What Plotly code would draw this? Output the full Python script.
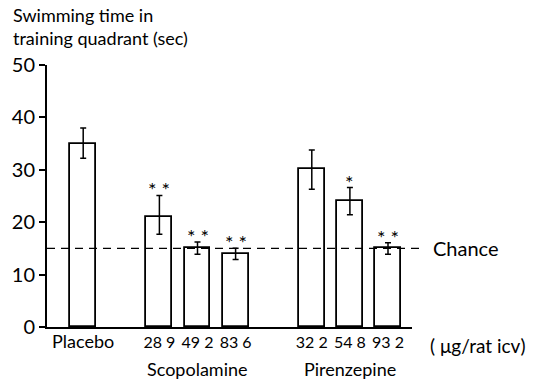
import plotly.graph_objects as go

# Data
positions = [0, 2, 3, 4, 6, 7, 8]
tick_labels = ["Placebo", "28 9", "49 2", "83 6", "32 2", "54 8", "93 2"]
values = [35.0, 21.0, 15.1, 14.0, 30.1, 24.1, 15.1]
err_plus = [3.0, 4.1, 1.1, 1.05, 3.7, 2.5, 1.0]
err_minus = [2.8, 3.3, 1.2, 1.1, 3.8, 2.7, 1.2]
stars = ["", "* *", "* *", "* *", "", "*", "* *"]
chance_level = 15
group_labels = ["Scopolamine", "Pirenzepine"]
group_centers = [3, 7]

FONT = "Lato"
W, H = 537, 380
ml, mr, mt, mb = 45, 125, 65, 53
pw, ph = W - ml - mr, H - mt - mb

ticktext = [f'<span style="font-size:18px">{t}</span>' if not t[0].isdigit() else t
            for t in tick_labels]

fig = go.Figure()
fig.add_trace(go.Bar(
    x=positions, y=values, width=0.68,
    marker=dict(color="white", line=dict(color="black", width=1.8)),
    error_y=dict(type="data", symmetric=False, array=err_plus, arrayminus=err_minus,
                 color="black", thickness=1.5, width=3),
    showlegend=False,
))

# chance line
fig.add_shape(type="line", xref="paper", yref="y", x0=0, x1=(425 - ml) / pw,
              y0=chance_level, y1=chance_level,
              line=dict(color="black", width=1.3, dash="8px,6px"))

ann = []
ann.append(dict(xref="paper", yref="y", x=(431 - ml) / pw, y=chance_level,
                text="Chance", showarrow=False, xanchor="left", yanchor="middle",
                font=dict(size=20, family=FONT, color="black")))
for p, v, e, s in zip(positions, values, err_plus, stars):
    if s:
        ann.append(dict(x=p, y=v + e, text=s, showarrow=False, yanchor="middle",
                        yshift=6, font=dict(size=20, family=FONT, color="black")))
for g, c in zip(group_labels, group_centers):
    ann.append(dict(x=c, xref="x", yref="paper", y=0, yshift=-42, text=g,
                    showarrow=False, yanchor="middle",
                    font=dict(size=18, family=FONT, color="black")))
ann.append(dict(xref="paper", yref="paper", x=(428 - ml) / pw, y=0, yshift=-18,
                text="( μg/rat icv)", showarrow=False, xanchor="left", yanchor="middle",
                font=dict(size=19, family=FONT, color="black")))
ann.append(dict(xref="paper", yref="paper", x=-(ml - 9) / pw, y=1 + (mt - 2) / ph,
                text="Swimming time in<br>training quadrant (sec)", showarrow=False,
                xanchor="left", yanchor="top", align="left",
                font=dict(size=18, family=FONT, color="black")))

fig.update_layout(
    width=W, height=H,
    margin=dict(l=ml, r=mr, t=mt, b=mb),
    paper_bgcolor="white", plot_bgcolor="white",
    annotations=ann,
    bargap=0,
    xaxis=dict(range=[-0.95, 8.63], tickvals=positions, ticktext=ticktext,
               showline=True, linecolor="black", linewidth=1.8, ticks="",
               showgrid=False, zeroline=False,
               tickfont=dict(size=16, family=FONT, color="black")),
    yaxis=dict(range=[0, 50], tickvals=[0, 10, 20, 30, 40, 50],
               showline=True, linecolor="black", linewidth=2, ticks="outside",
               ticklen=6, tickwidth=1.5, tickcolor="black",
               showgrid=False, zeroline=False,
               tickfont=dict(size=20, family=FONT, color="black")),
)
fig.write_html("out.html")
